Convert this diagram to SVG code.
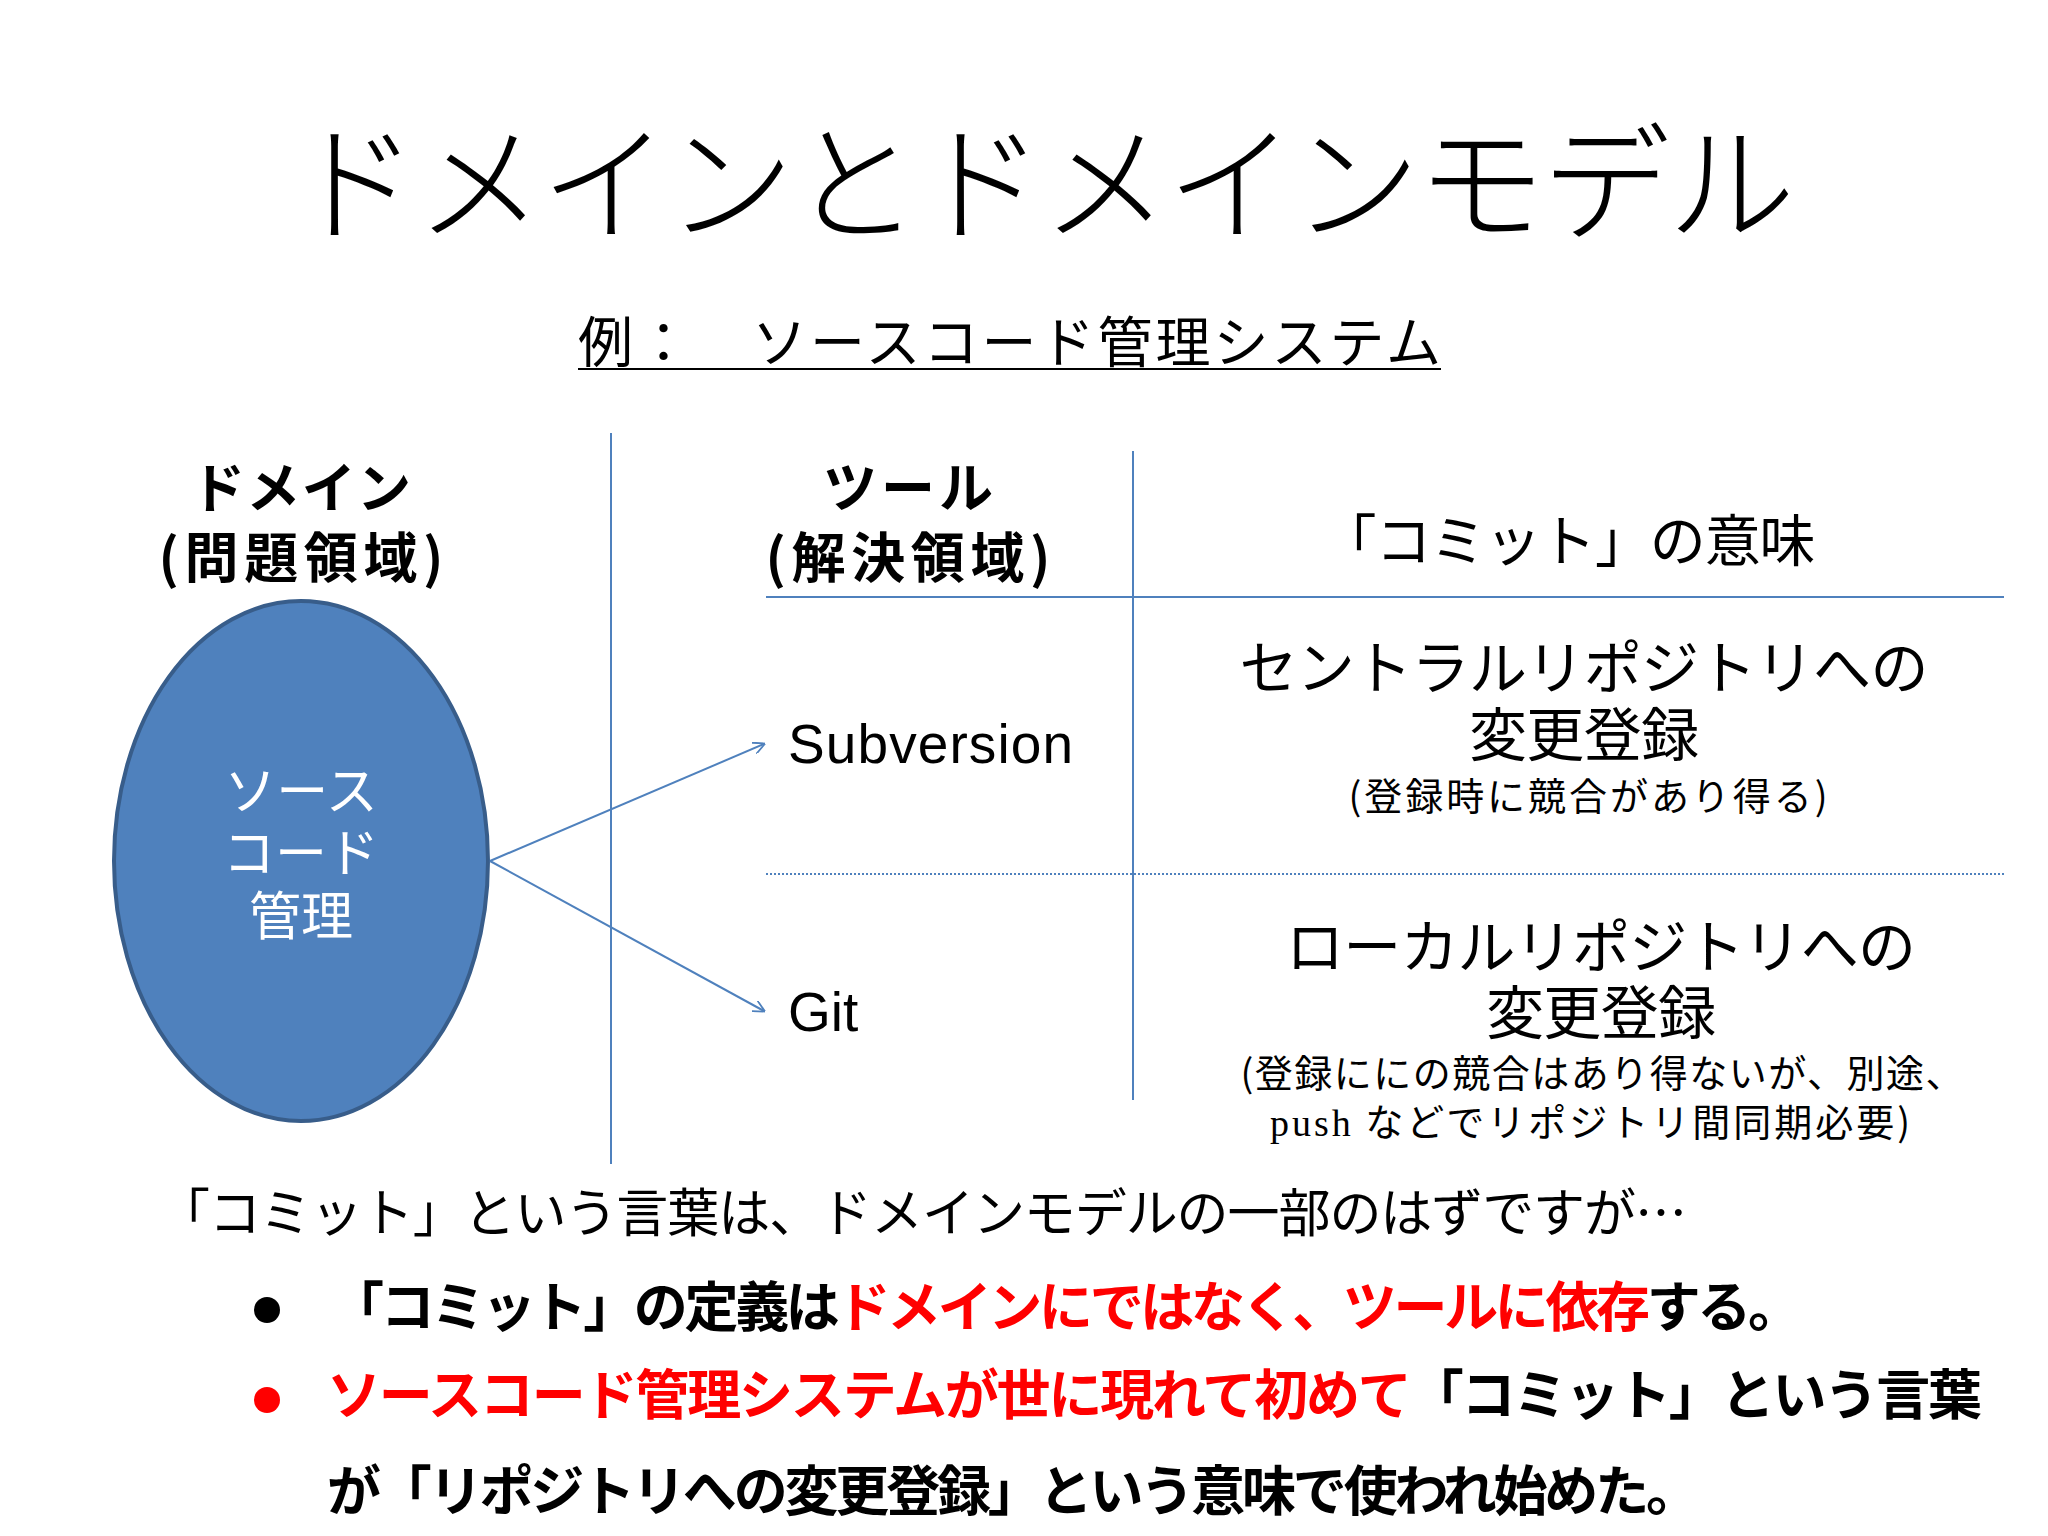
<svg xmlns="http://www.w3.org/2000/svg" width="2048" height="1536" viewBox="0 0 2048 1536">
<style>
text{font-family:"Noto Sans CJK JP","Noto Sans",sans-serif;fill:#000}
.b{font-weight:bold}
.r{fill:#ff0000}
.w{fill:#fff}
.ln{stroke:#4f81bd;stroke-width:2;fill:none}
</style>
<defs><marker id="ah" viewBox="0 0 10 10" refX="9" refY="5" markerWidth="12" markerHeight="12" markerUnits="userSpaceOnUse" orient="auto"><path d="M0,0L10,5L0,10" fill="none" stroke="#4f81bd" stroke-width="1.5"/></marker></defs>
<rect width="2048" height="1536" fill="#fff"/>
<g id="title"><text x="1043" y="231" font-size="128" text-anchor="middle" textLength="1505" font-weight="300">ドメインとドメインモデル</text></g>
<g id="subtitle"><text x="578" y="362" font-size="55" textLength="863">例：　ソースコード管理システム</text><line x1="578" y1="369" x2="1441" y2="369" stroke="#000" stroke-width="2"/></g>
<g id="grid">
<line class="ln" x1="611" y1="433" x2="611" y2="1164"/>
<line class="ln" x1="1133" y1="451" x2="1133" y2="1100"/>
<line class="ln" x1="766" y1="597" x2="2004" y2="597"/>
<line class="ln" x1="766" y1="874" x2="2004" y2="874" stroke-dasharray="2,2"/>
</g>
<g id="domain-head"><text class="b" x="301" y="508" font-size="54" text-anchor="middle" textLength="220">ドメイン</text><text class="b" x="301" y="578" font-size="54" text-anchor="middle" textLength="285">(問題領域)</text></g>
<g id="tool-head"><text class="b" x="908" y="508" font-size="54" text-anchor="middle" textLength="170">ツール</text><text class="b" x="908" y="578" font-size="54" text-anchor="middle" textLength="285">(解決領域)</text></g>
<g id="meaning-head"><text x="1568" y="561" font-size="56" text-anchor="middle" textLength="495">「コミット」の意味</text></g>
<g id="domain"><ellipse cx="301" cy="861" rx="187" ry="260" fill="#4f81bd" stroke="#385d8a" stroke-width="4"/>
<text class="w" x="301" y="810" font-size="52" text-anchor="middle">ソース</text><text class="w" x="301" y="872" font-size="52" text-anchor="middle">コード</text><text class="w" x="301" y="935" font-size="52" text-anchor="middle">管理</text></g>
<g id="connectors"><line class="ln" x1="490" y1="861" x2="764" y2="744" marker-end="url(#ah)"/><line class="ln" x1="490" y1="861" x2="764" y2="1011" marker-end="url(#ah)"/></g>
<g id="svn"><text x="788" y="763" font-size="55" textLength="285" style="font-family:'Liberation Sans',sans-serif">Subversion</text></g>
<g id="git"><text x="788" y="1031" font-size="55" style="font-family:'Liberation Sans',sans-serif">Git</text></g>
<g id="svn-meaning"><text x="1584" y="689" font-size="58" text-anchor="middle" textLength="689">セントラルリポジトリへの</text><text x="1584" y="756" font-size="58" text-anchor="middle" textLength="230">変更登録</text><text x="1588" y="810" font-size="38" text-anchor="middle" textLength="479">(登録時に競合があり得る)</text></g>
<g id="git-meaning"><text x="1601" y="968" font-size="58" text-anchor="middle" textLength="630">ローカルリポジトリへの</text><text x="1601" y="1034" font-size="58" text-anchor="middle" textLength="230">変更登録</text><text x="1602" y="1087" font-size="38" text-anchor="middle" textLength="723">(登録ににの競合はあり得ないが、別途、</text><text x="1590" y="1136" font-size="38" text-anchor="middle" textLength="640"><tspan style="font-family:'Liberation Serif',serif">push</tspan> などでリポジトリ間同期必要)</text></g>
<g id="notes">
<text x="158" y="1232" font-size="52" textLength="1529">「コミット」という言葉は、ドメインモデルの一部のはずですが…</text>
<circle cx="267" cy="1310" r="13" fill="#000"/>
<text class="b" x="330" y="1327" font-size="54" textLength="1472">「コミット」の定義は<tspan class="r">ドメインにではなく、ツールに依存</tspan>する。</text>
<circle cx="267" cy="1400" r="13" fill="#ff0000"/>
<text class="b" x="327" y="1415" font-size="54" textLength="1655"><tspan class="r">ソースコード管理システムが世に現れて初めて</tspan>「コミット」という言葉</text>
<text class="b" x="327" y="1511" font-size="54" textLength="1373">が「リポジトリへの変更登録」という意味で使われ始めた。</text>
</g>
</svg>
